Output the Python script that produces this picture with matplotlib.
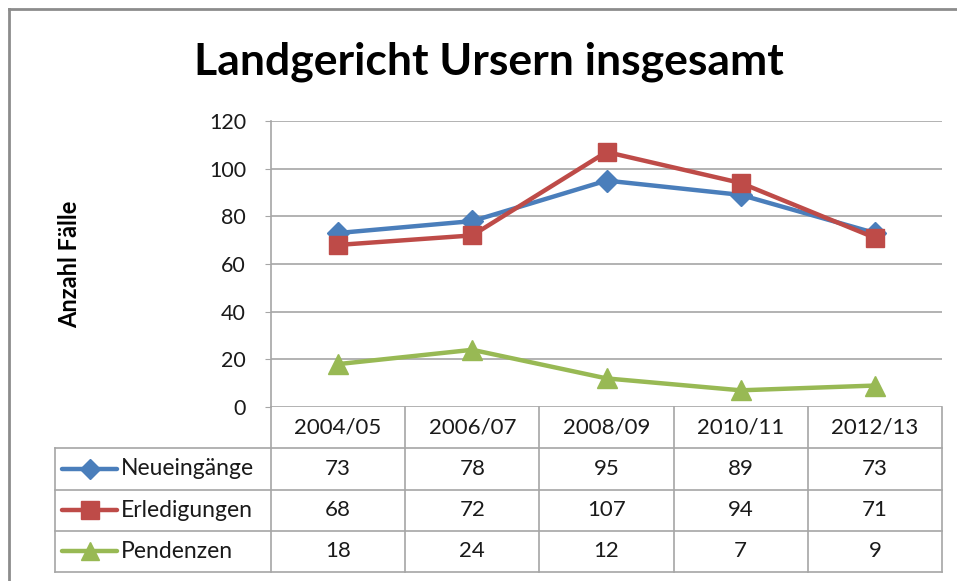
import matplotlib.pyplot as plt
from matplotlib.lines import Line2D

jahre = ["2004/05", "2006/07", "2008/09", "2010/11", "2012/13"]
neueingaenge = [73, 78, 95, 89, 73]
erledigungen = [68, 72, 107, 94, 71]
pendenzen = [18, 24, 12, 7, 9]
serien = ["Neueingänge", "Erledigungen", "Pendenzen"]
y_ticks = [0, 20, 40, 60, 80, 100, 120]

farben = ["#4A7EBB", "#BE4B48", "#98B954"]
marker = ["D", "s", "^"]
msize = [11, 13, 14]
grau = "#A6A6A6"

plt.rcParams["font.family"] = ["Lato", "DejaVu Sans"]

W, H = 957, 581
fig = plt.figure(figsize=(W / 100, H / 100), dpi=100)

# rahmen um das diagramm (rechts/unten ausserhalb des bildes)
fig.add_artist(Line2D([9 / W, 9 / W], [0, 1 - 9 / H], color="#8C8C8C", lw=2))
fig.add_artist(Line2D([9 / W, 1], [1 - 9 / H, 1 - 9 / H], color="#8C8C8C", lw=2))

x0, x1 = 271, 942
y_top, y_bot = 121, 407
ax = fig.add_axes([x0 / W, 1 - y_bot / H, (x1 - x0) / W, (y_bot - y_top) / H])

werte = [neueingaenge, erledigungen, pendenzen]
xs = list(range(len(jahre)))
for vals, c, m, s in zip(werte, farben, marker, msize):
    ax.plot(xs, vals, color=c, lw=3.2, marker=m, ms=s, mfc=c, mec=c, zorder=3)

ax.set_xlim(-0.5, len(jahre) - 0.5)
ax.set_ylim(0, 120)
ax.set_yticks(y_ticks)
ax.set_xticks([])
ax.grid(axis="y", color=grau, lw=1.2)
for sp in ["top", "right", "bottom"]:
    ax.spines[sp].set_visible(False)
ax.spines["left"].set_color(grau)
ax.spines["left"].set_linewidth(1.2)
ax.tick_params(axis="y", length=4, color=grau, pad=14, labelsize=15.5, labelcolor="#1a1a1a")
ax.set_ylabel("Anzahl Fälle", fontsize=17, fontweight="bold", labelpad=92)

fig.text(489 / W, 1 - 62 / H, "Landgericht Ursern insgesamt", ha="center", va="center",
         fontsize=32, fontweight="bold")

# datentabelle
lab_w = (x0 - 55) / ((x1 - x0) / len(jahre))
n_rows = len(serien) + 1
tab = fig.add_axes([55 / W, 1 - 572 / H, (x1 - 55) / W, (572 - y_bot) / H])
tab.set_xlim(-0.5 - lab_w, len(jahre) - 0.5)
tab.set_ylim(n_rows, 0)
tab.axis("off")
lk = dict(color=grau, lw=1.2, clip_on=False)
left = -0.5 - lab_w
for r in range(1, n_rows + 1):
    tab.plot([left, len(jahre) - 0.5], [r, r], **lk)
for i in range(len(jahre) + 1):
    tab.plot([i - 0.5, i - 0.5], [0, n_rows], **lk)
tab.plot([left, left], [1, n_rows], **lk)

for i, j in enumerate(jahre):
    tab.text(i, 0.5, j, ha="center", va="center", fontsize=16, color="#1a1a1a")
for r, (name, vals, c, m, s) in enumerate(zip(serien, werte, farben, marker, msize), start=1):
    for i, v in enumerate(vals):
        tab.text(i, r + 0.5, str(v), ha="center", va="center", fontsize=16, color="#1a1a1a")
    kx0 = left + 7 / 134.2
    kx1 = left + 62 / 134.2
    tab.plot([kx0, kx1], [r + 0.5, r + 0.5], color=c, lw=3.2, solid_capstyle="round")
    tab.plot([(kx0 + kx1) / 2], [r + 0.5], marker=m, ms=s * 0.95, color=c, ls="none")
    tab.text(left + 66 / 134.2, r + 0.5, name, ha="left", va="center", fontsize=16.5, color="#1a1a1a")

fig.savefig("out.png", dpi=100)
